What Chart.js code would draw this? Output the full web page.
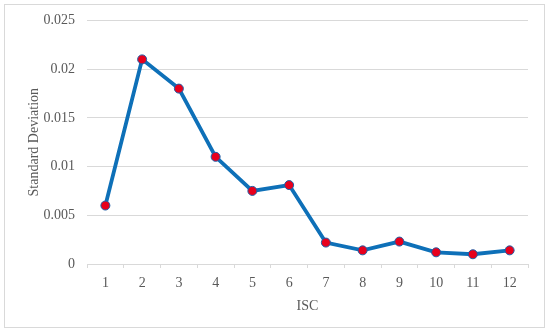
<!DOCTYPE html>
<html>
<head>
<meta charset="utf-8">
<script src="https://cdn.jsdelivr.net/npm/chart.js@4/dist/chart.umd.min.js"></script>
<style>
  html, body { margin: 0; padding: 0; background: #fff; }
  #wrap { position: relative; width: 550px; height: 333px; }
</style>
</head>
<body>
<div id="wrap"><canvas id="myChart" width="550" height="333"></canvas></div>
<script>
// DATA
const categories = ['1', '2', '3', '4', '5', '6', '7', '8', '9', '10', '11', '12'];
const stdDev = [0.006, 0.021, 0.018, 0.011, 0.0075, 0.0081, 0.0022, 0.0014, 0.0023, 0.0012, 0.001, 0.0014];
const yTicks = [0, 0.005, 0.01, 0.015, 0.02, 0.025];

// outer frame like the exported picture
const frame = {
  id: 'frame',
  beforeDraw(chart) {
    const c = chart.ctx;
    c.save();
    c.fillStyle = '#fff';
    c.fillRect(0, 0, chart.width, chart.height);
    c.strokeStyle = '#d9d9d9';
    c.lineWidth = 1;
    c.strokeRect(4.5, 4.5, 540, 323);
    c.restore();
  }
};

const grey = '#595959';
const font = { family: '"Liberation Serif", "Times New Roman", serif', size: 14 };

const ctx = document.getElementById('myChart').getContext('2d');
const myChart = new Chart(ctx, {
  type: 'line',
  data: {
    labels: categories,
    datasets: [{
      label: 'Standard Deviation',
      data: stdDev,
      borderColor: '#0e70b8',
      borderWidth: 3.8,
      pointBackgroundColor: '#e8001c',
      pointBorderColor: '#1f5fa8',
      pointBorderWidth: 1,
      pointRadius: 4.5,
      tension: 0
    }]
  },
  options: {
    responsive: false,
    animation: false,
    layout: { padding: { left: 26, right: 22, top: 20, bottom: 18 } },
    plugins: { legend: { display: false }, tooltip: { enabled: false } },
    scales: {
      x: {
        offset: true,
        grid: { display: true, drawOnChartArea: false, offset: true, color: '#d9d9d9', tickLength: 4 },
        border: { color: '#d9d9d9' },
        ticks: { color: grey, font: font, padding: 7 },
        title: { display: true, text: 'ISC', color: grey, font: font, padding: 0 },
        afterFit(scale) { scale.height = 51; }
      },
      y: {
        min: 0,
        max: 0.025,
        afterBuildTicks(scale) { scale.ticks = yTicks.map(v => ({ value: v })); },
        grid: { color: '#d9d9d9', drawTicks: false },
        border: { display: false },
        ticks: { color: grey, font: font, padding: 12, callback: v => String(v) },
        title: { display: true, text: 'Standard Deviation', color: grey, font: font, padding: 0 },
        afterFit(scale) { scale.width = 61; }
      }
    }
  },
  plugins: [frame]
});
</script>
</body>
</html>
